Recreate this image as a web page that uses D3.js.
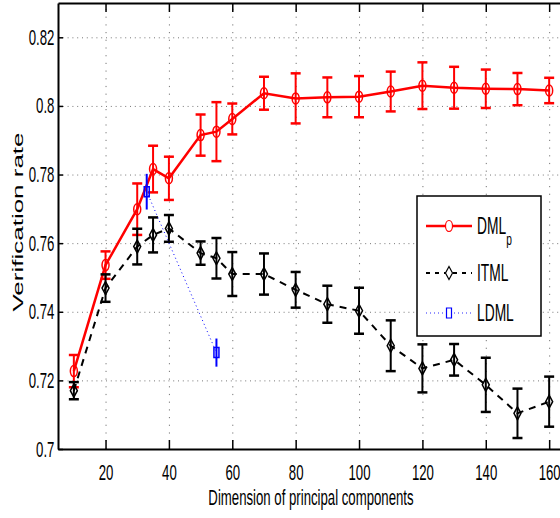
<!DOCTYPE html>
<html>
<head>
<meta charset="utf-8">
<script src="https://cdn.jsdelivr.net/npm/d3@7"></script>
<style>
  body { margin: 0; background: #fff; }
  svg { display: block; font-family: "Liberation Sans", Arial, Helvetica, sans-serif; }
</style>
</head>
<body>
<svg width="560" height="518"></svg>
<script>
// data
var xVals = [10, 20, 30, 35, 40, 50, 55, 60, 70, 80, 90, 100, 110, 120, 130, 140, 150, 160];
var dmlMean = [0.7227, 0.7536, 0.7699, 0.7816, 0.7789, 0.7915, 0.7925, 0.7962, 0.8037, 0.8022, 0.8025, 0.8027, 0.8042, 0.8059, 0.8053, 0.8050, 0.8049, 0.8045];
var dmlErr = [0.0047, 0.0040, 0.0075, 0.0068, 0.0063, 0.0060, 0.0086, 0.0045, 0.0048, 0.0073, 0.0058, 0.0060, 0.0058, 0.0068, 0.0061, 0.0056, 0.0047, 0.0037];
var itmlMean = [0.7170, 0.7469, 0.7590, 0.7624, 0.7643, 0.7571, 0.7556, 0.7510, 0.7510, 0.7464, 0.7422, 0.7403, 0.7301, 0.7235, 0.7260, 0.7187, 0.7104, 0.7138];
var itmlErr = [0.0025, 0.0040, 0.0052, 0.0051, 0.0039, 0.0034, 0.0059, 0.0064, 0.0060, 0.0052, 0.0054, 0.0067, 0.0074, 0.0070, 0.0046, 0.0079, 0.0072, 0.0073];
var ldmlX = [33, 55];
var ldmlMean = [0.7750, 0.7281];
var ldmlErr = [0.0052, 0.0041];
var xTicks = [20, 40, 60, 80, 100, 120, 140, 160];
var yTicks = [0.7, 0.72, 0.74, 0.76, 0.78, 0.8, 0.82];

var svg = d3.select("svg");
var sx = 0.6; // the figure is squeezed horizontally

var x = d3.scaleLinear().domain([5, 165]).range([58, 565]);
var y = d3.scaleLinear().domain([0.7, 0.83]).range([449, 3]);

// grid
svg.append("g")
  .attr("transform", "translate(0,449)")
  .call(d3.axisBottom(x).tickValues(xTicks).tickSize(-446).tickFormat(""))
  .call(function(g) {
    g.select(".domain").remove();
    g.selectAll("line").attr("stroke", "#777").attr("stroke-dasharray", "1.2,6.5");
  });
svg.append("g")
  .attr("transform", "translate(58,0)")
  .call(d3.axisLeft(y).tickValues(yTicks.slice(1)).tickSize(-510).tickFormat(""))
  .call(function(g) {
    g.select(".domain").remove();
    g.selectAll("line").attr("stroke", "#777").attr("stroke-dasharray", "1,3.8");
  });

// axes
var xAxis = svg.append("g")
  .attr("transform", "translate(0,449)")
  .call(d3.axisBottom(x).tickValues(xTicks).tickSizeInner(-9).tickSizeOuter(0).tickPadding(15));
var yAxis = svg.append("g")
  .attr("transform", "translate(58,0)")
  .call(d3.axisLeft(y).tickValues(yTicks).tickFormat(function(d) { return String(+d.toFixed(2)); })
    .tickSizeInner(-5).tickSizeOuter(0).tickPadding(6));
svg.append("g")
  .attr("transform", "translate(0,3)")
  .call(d3.axisTop(x).tickValues(xTicks).tickSizeInner(-9).tickSizeOuter(0).tickFormat(""));

svg.selectAll(".domain").attr("stroke", "#000").attr("stroke-width", 2);
svg.selectAll(".tick line").filter(function() { return !this.getAttribute("stroke-dasharray"); })
  .attr("stroke", "#000").attr("stroke-width", 1.5);
xAxis.selectAll("text").attr("font-size", 22).attr("fill", "#000").attr("transform", "scale(" + sx + ",1)");
yAxis.selectAll("text").attr("font-size", 22).attr("fill", "#000").attr("transform", "scale(" + sx + ",1)");

// axis titles
svg.append("text")
  .attr("transform", "translate(311,505) scale(" + sx + ",1)")
  .attr("text-anchor", "middle")
  .attr("font-size", 22)
  .text("Dimension of principal components");
svg.append("text")
  .attr("transform", "translate(23,222) scale(0.55,1) rotate(-90)")
  .attr("text-anchor", "middle")
  .attr("font-size", 26)
  .text("Verification rate");

var plot = svg.append("g");

function drawSeries(xs, means, errs, color, lineW, dash, cap, marker) {
  var pts = xs.map(function(d, i) { return {x: d, m: means[i], e: errs[i]}; });
  var line = d3.line().x(function(d) { return x(d.x); }).y(function(d) { return y(d.m); });
  plot.append("path").datum(pts)
    .attr("d", line).attr("fill", "none")
    .attr("stroke", color).attr("stroke-width", lineW)
    .attr("stroke-dasharray", dash);
  var eb = plot.append("g").selectAll("g").data(pts).enter().append("g")
    .attr("stroke", color).attr("stroke-width", 2);
  eb.append("line")
    .attr("x1", function(d) { return x(d.x); }).attr("x2", function(d) { return x(d.x); })
    .attr("y1", function(d) { return y(d.m - d.e); }).attr("y2", function(d) { return y(d.m + d.e); });
  if (cap > 0) {
    [-1, 1].forEach(function(s) {
      eb.append("line")
        .attr("x1", function(d) { return x(d.x) - cap; }).attr("x2", function(d) { return x(d.x) + cap; })
        .attr("y1", function(d) { return y(d.m + s * d.e); }).attr("y2", function(d) { return y(d.m + s * d.e); })
        .attr("stroke-width", 2.5);
    });
  }
  plot.append("g").selectAll("path").data(pts).enter().append("path")
    .attr("transform", function(d) { return "translate(" + x(d.x) + "," + y(d.m) + ")"; })
    .attr("d", marker).attr("fill", "none").attr("stroke", color).attr("stroke-width", 1.5);
}

var circleMark = "M0,-5.5A3.5,5.5 0 1,1 0,5.5A3.5,5.5 0 1,1 0,-5.5Z";
var diamondMark = "M0,-6.5L3.5,0L0,6.5L-3.5,0Z";
var squareMark = "M-2.5,-5H2.5V5H-2.5Z";

drawSeries(xVals, dmlMean, dmlErr, "#ff0000", 2.5, null, 5, circleMark);
drawSeries(xVals, itmlMean, itmlErr, "#000", 2, "7,6", 5, diamondMark);
drawSeries(ldmlX, ldmlMean, ldmlErr, "#0000ff", 1, "1,3", 0, squareMark);

// legend
var legend = svg.append("g");
legend.append("rect")
  .attr("x", 417).attr("y", 196).attr("width", 124).attr("height", 140)
  .attr("fill", "#fff").attr("stroke", "#000").attr("stroke-width", 1.5);
var legItems = [
  {label: "DML", sub: "p", color: "#ff0000", w: 2.5, dash: null, mark: circleMark, y: 226},
  {label: "ITML", sub: "", color: "#000", w: 2, dash: "4,5", mark: diamondMark, y: 273},
  {label: "LDML", sub: "", color: "#6f6fff", w: 1.5, dash: "1,3", mark: squareMark, y: 313}
];
legItems.forEach(function(it) {
  legend.append("line")
    .attr("x1", 426).attr("x2", 472).attr("y1", it.y).attr("y2", it.y)
    .attr("stroke", it.color).attr("stroke-width", it.w).attr("stroke-dasharray", it.dash);
  legend.append("path")
    .attr("transform", "translate(449," + it.y + ")")
    .attr("d", it.mark).attr("fill", "#fff")
    .attr("stroke", it.color === "#6f6fff" ? "#0000ff" : it.color).attr("stroke-width", 1.2);
  var t = legend.append("text")
    .attr("transform", "translate(477," + (it.y + 8) + ") scale(" + sx + ",1)")
    .attr("font-size", 23);
  t.append("tspan").text(it.label);
  if (it.sub) t.append("tspan").attr("font-size", 17).attr("dy", 11).text(it.sub);
});
</script>
</body>
</html>
